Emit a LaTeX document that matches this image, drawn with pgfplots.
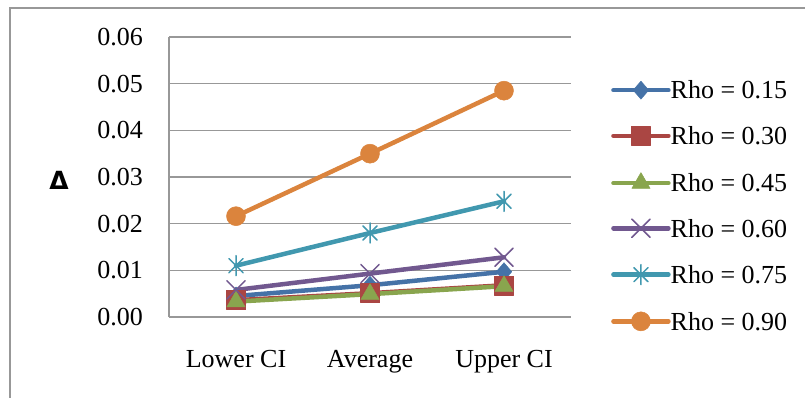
\documentclass[border=0pt]{standalone}
\usepackage{fontspec}
\setmainfont{Liberation Serif}
\newfontfamily\deltafont{DejaVu Sans}
\usepackage{pgfplots}
\pgfplotsset{compat=1.18}
\definecolor{gridgray}{RGB}{152,152,152}
\definecolor{cblue}{RGB}{69,114,167}
\definecolor{cred}{RGB}{170,70,67}
\definecolor{cgreen}{RGB}{137,165,78}
\definecolor{cpurple}{RGB}{113,88,143}
\definecolor{cteal}{RGB}{65,152,175}
\definecolor{corange}{RGB}{219,132,61}
\pgfdeclareplotmark{xstar}{%
  \pgfpathmoveto{\pgfqpoint{0pt}{\pgfplotmarksize}}%
  \pgfpathlineto{\pgfqpoint{0pt}{-\pgfplotmarksize}}%
  \pgfpathmoveto{\pgfqpoint{-.707\pgfplotmarksize}{.707\pgfplotmarksize}}%
  \pgfpathlineto{\pgfqpoint{.707\pgfplotmarksize}{-.707\pgfplotmarksize}}%
  \pgfpathmoveto{\pgfqpoint{-.707\pgfplotmarksize}{-.707\pgfplotmarksize}}%
  \pgfpathlineto{\pgfqpoint{.707\pgfplotmarksize}{.707\pgfplotmarksize}}%
  \pgfusepathqstroke}
\begin{document}
\begin{tikzpicture}
\begin{axis}[
  at={(169bp,81bp)}, anchor=south west,
  scale only axis, width=402bp, height=280bp,
  xmin=-0.5, xmax=2.5, ymin=0, ymax=0.06,
  xtick={0,1,2}, xticklabels={Lower CI, Average, Upper CI},
  ytick={0,0.01,0.02,0.03,0.04,0.05,0.06},
  /pgf/number format/assume math mode=true,
  yticklabel style={/pgf/number format/fixed, /pgf/number format/fixed zerofill, /pgf/number format/precision=2, anchor=east, xshift=-26bp},
  xticklabel style={anchor=base, yshift=-50bp},
  tick label style={font=\fontsize{26bp}{31bp}\selectfont, inner sep=0pt},
  scaled y ticks=false,
  ymajorgrids, grid style={color=gridgray, line width=1.5bp},
  axis x line*=bottom, axis y line*=left,
  axis line style={gridgray, line width=1.5bp, -},
  major tick length=0pt,
  clip=false,
  every axis plot/.append style={line width=4.5bp, line cap=round, line join=round},
  legend image code/.code={\draw[mark repeat=2, mark phase=2, #1] plot coordinates {(0bp,0bp) (27.5bp,0bp) (55bp,0bp)};},
  legend style={draw=none, fill=none, at={(1.0995,0.843)}, anchor=north west, inner sep=0pt,
    font=\fontsize{26bp}{31bp}\selectfont, row sep=27.2bp, column sep=0bp,
    nodes={inner sep=0pt, text height=17.6bp, text depth=0bp}},
  legend cell align=left,
]
\addplot[cblue, mark=diamond*, mark size=9bp, mark options={line width=0.5bp, xscale=1.15}] coordinates {(0,0.0045) (1,0.0068) (2,0.0097)};
\addlegendentry{Rho = 0.15}
\addplot[cred, mark=square*, mark size=9.5bp, mark options={line width=0.5bp}] coordinates {(0,0.0036) (1,0.0051) (2,0.0068)};
\addlegendentry{Rho = 0.30}
\addplot[cgreen, mark=triangle*, mark size=10.5bp, mark options={line width=0.5bp}] coordinates {(0,0.0033) (1,0.0049) (2,0.0066)};
\addlegendentry{Rho = 0.45}
\addplot[cpurple, mark=x, mark size=13bp, mark options={line width=1.5bp}] coordinates {(0,0.0058) (1,0.0093) (2,0.0128)};
\addlegendentry{Rho = 0.60}
\addplot[cteal, mark=xstar, mark size=10bp, mark options={line width=1.5bp}] coordinates {(0,0.0110) (1,0.0180) (2,0.0248)};
\addlegendentry{Rho = 0.75}
\addplot[corange, mark=*, mark size=9.5bp, mark options={line width=0.5bp}] coordinates {(0,0.0216) (1,0.0350) (2,0.0485)};
\addlegendentry{Rho = 0.90}
\end{axis}
\node[font=\deltafont\bfseries\fontsize{25bp}{30bp}\selectfont] at (59bp,218bp) {Δ};
\draw[gridgray, line width=1.5bp] (10bp,-5bp) -- (10bp,390bp) -- (810bp,390bp);
\pgfresetboundingbox
\useasboundingbox (0,0) rectangle (805bp,398bp);
\end{tikzpicture}
\end{document}
